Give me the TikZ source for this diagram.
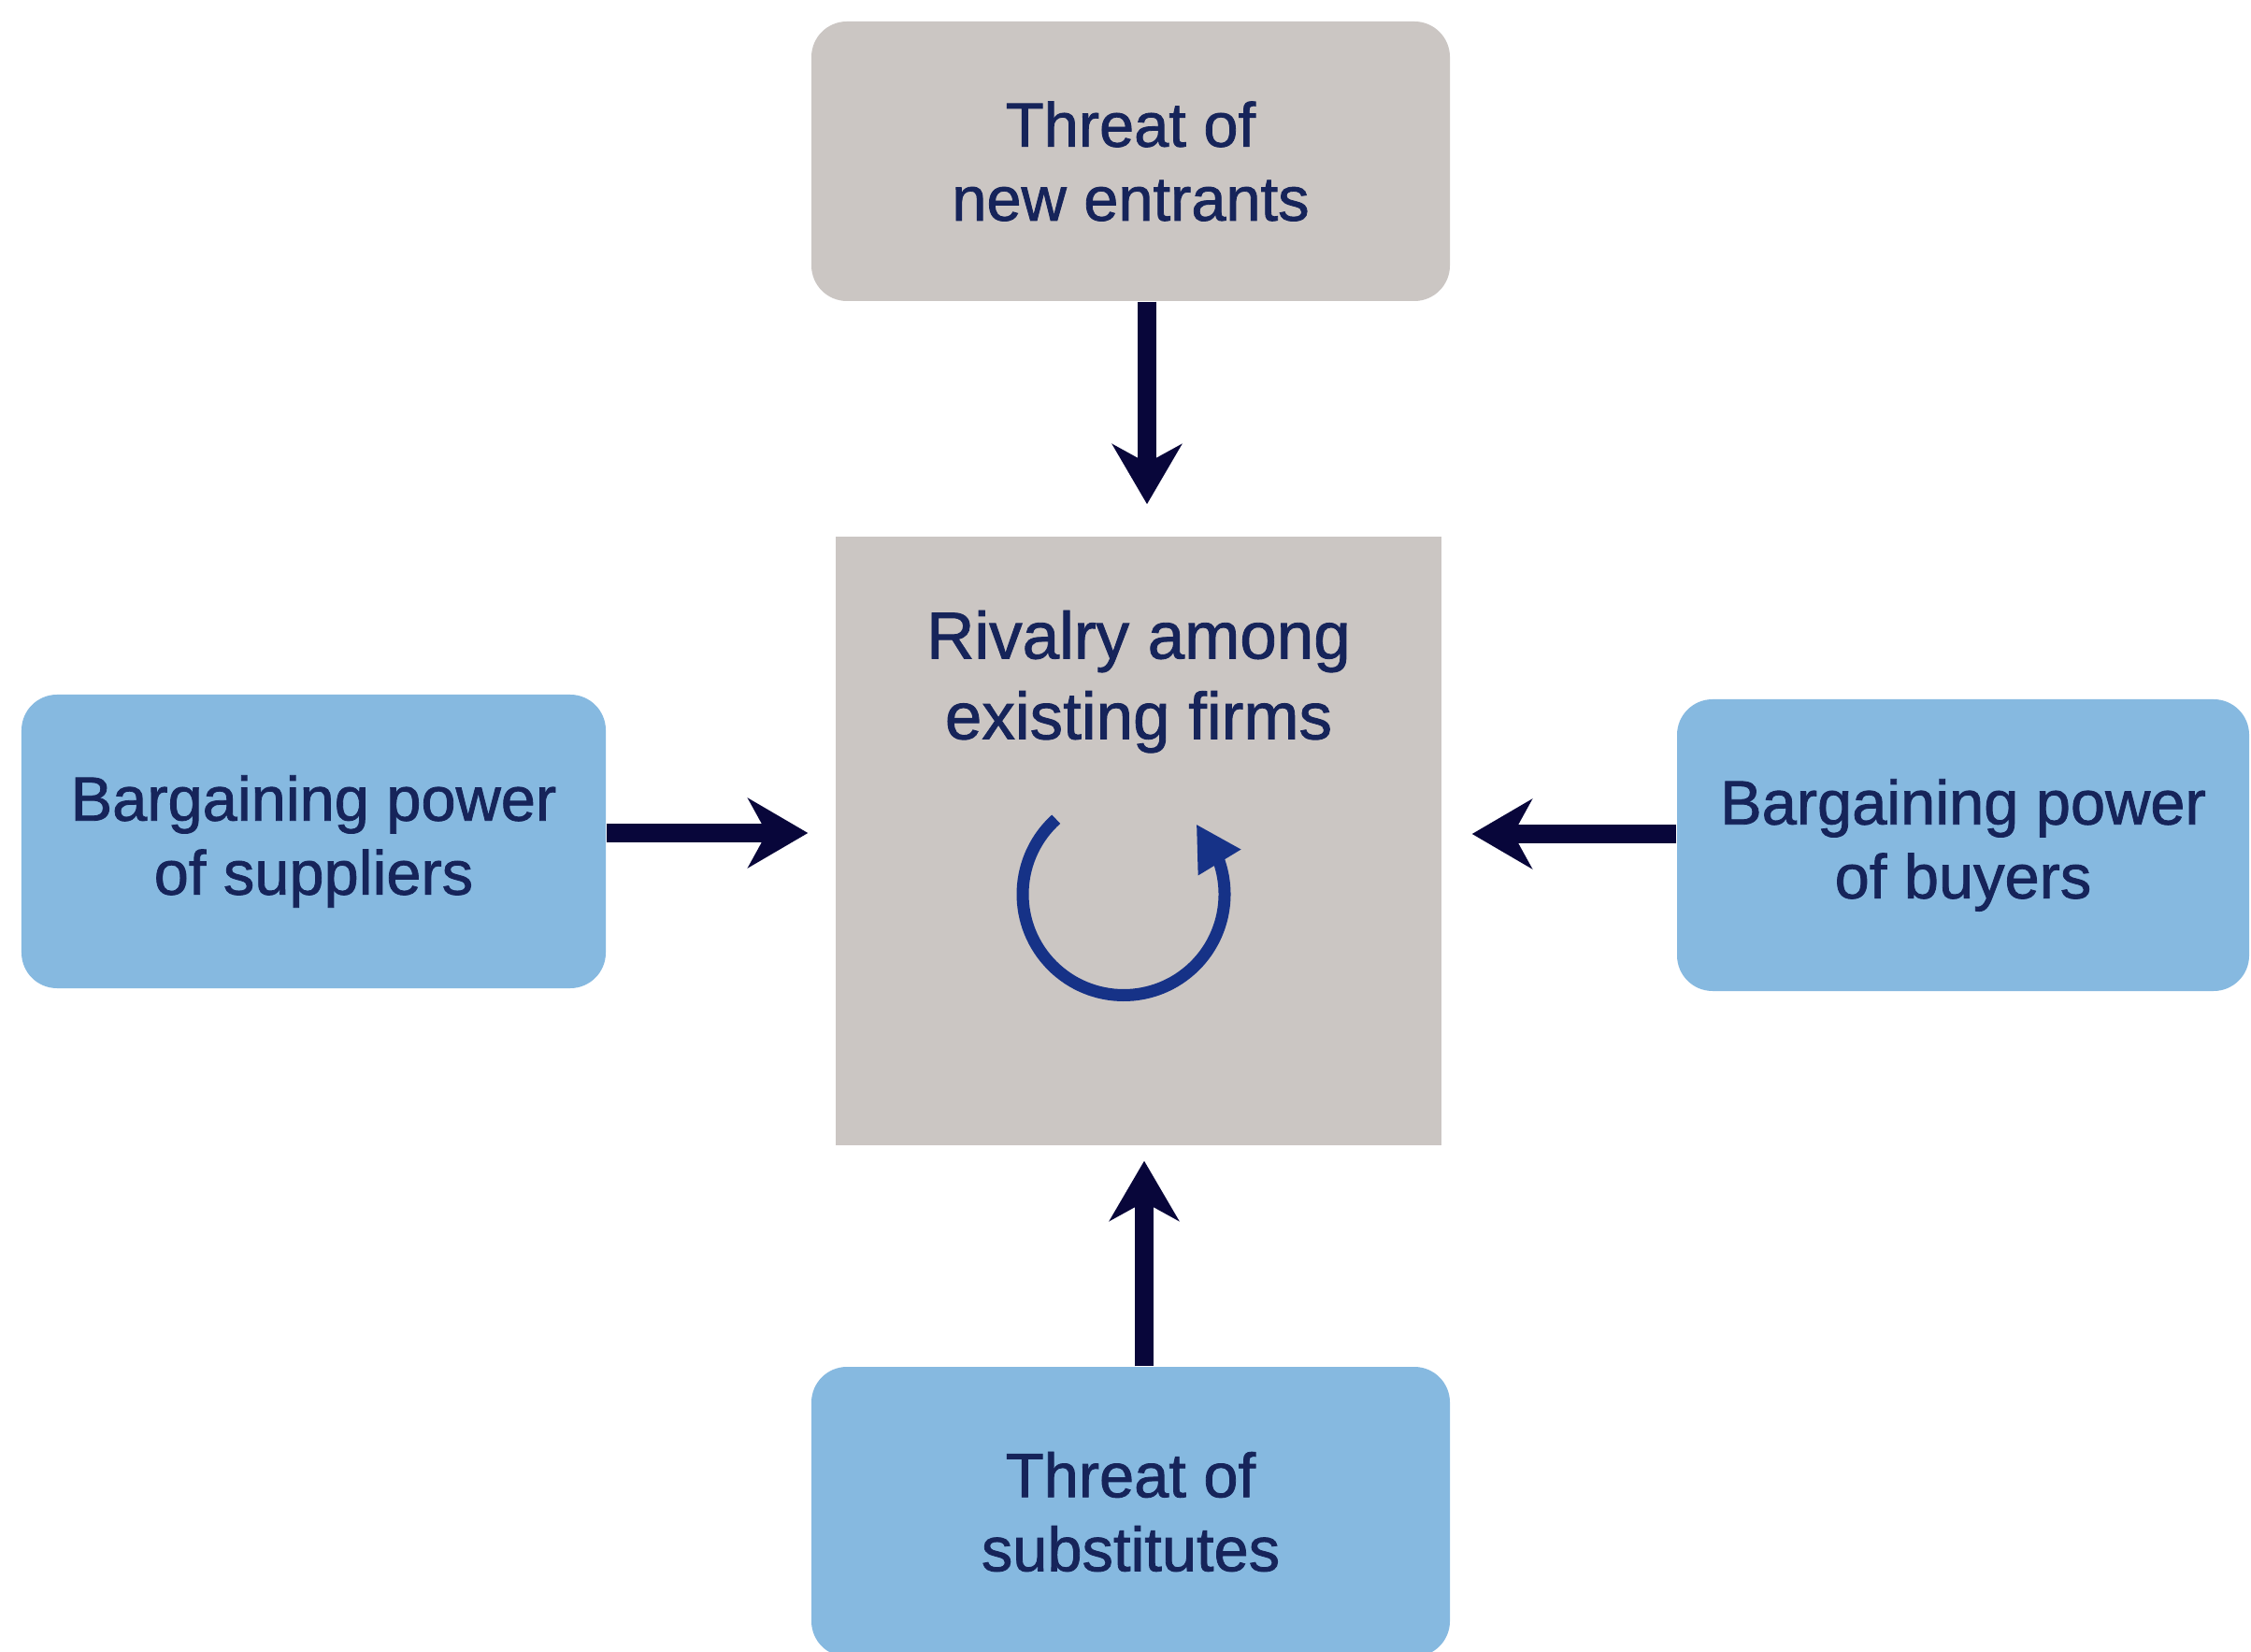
\documentclass[tikz,border=0pt]{standalone}
\usepackage{fontspec}
\setmainfont{Liberation Sans}[FakeBold=1.2]
\usetikzlibrary{arrows.meta,bending,positioning}

\definecolor{boxgray}{RGB}{203,198,195}
\definecolor{boxblue}{RGB}{134,185,224}
\definecolor{textnavy}{RGB}{22,36,90}
\definecolor{arrownavy}{RGB}{8,6,58}
\definecolor{spinnavy}{RGB}{22,50,135}

\begin{document}
\begin{tikzpicture}[
	force/.style={draw=arrownavy,line width=.2cm,-{Stealth[length=.64cm,width=.74cm,inset=.2cm]}},
	forcebox/.style={rounded corners=.38cm,text=textnavy,align=center,font=\fontsize{19}{22.5}\selectfont},
	]

	\useasboundingbox (0,0) rectangle (24.08,17.66);
	\fill[white] (0,0) rectangle (24.08,17.66);
	\clip (0,0) rectangle (24.08,17.66);

	% the five forces
	\node[fill=boxgray,minimum width=6.48cm,minimum height=6.51cm] (rivalry) at (12.18,8.665) {};
	\node[forcebox,fill=boxgray,minimum width=6.83cm,minimum height=2.99cm] (entrants) at (12.095,15.935) {Threat of\\new entrants};
	\node[forcebox,fill=boxblue,minimum width=6.25cm,minimum height=3.14cm] (suppliers) at (3.355,8.66) {Bargaining power\\of suppliers};
	\node[forcebox,fill=boxblue,minimum width=6.12cm,minimum height=3.12cm] (buyers) at (21.0,8.62) {Bargaining power\\of buyers};
	\node[forcebox,fill=boxblue,minimum width=6.83cm,minimum height=3.1cm] (substitutes) at (12.095,1.49) {Threat of\\substitutes};

	\node[text=textnavy,align=center,inner sep=0pt,font=\fontsize{20.2}{24.5}\selectfont,below=.79cm of rivalry.north] (rivalrytext) {Rivalry among\\existing firms};

	% rivalry cycle
	\coordinate[below left=.57cm and .16cm of rivalry.center] (spin);
	\draw[spinnavy,line width=.13cm,-{Triangle[length=.48cm,width=.5cm,flex]}] ([shift={(132:1.08)}]spin) arc[start angle=132,end angle=404,radius=1.08];

	% arrows into the rivalry box
	\draw[force,shorten >=.34cm] ([xshift=.09cm]rivalry.north |- entrants.south) -- ([xshift=.09cm]rivalry.north);
	\draw[force,shorten >=.16cm] ([xshift=.06cm]rivalry.south |- substitutes.north) -- ([xshift=.06cm]rivalry.south);
	\draw[force,shorten >=.29cm] ([yshift=.085cm]rivalry.west -| suppliers.east) -- ([yshift=.085cm]rivalry.west);
	\draw[force,shorten >=.32cm] ([yshift=.075cm]rivalry.east -| buyers.west) -- ([yshift=.075cm]rivalry.east);

\end{tikzpicture}
\end{document}
